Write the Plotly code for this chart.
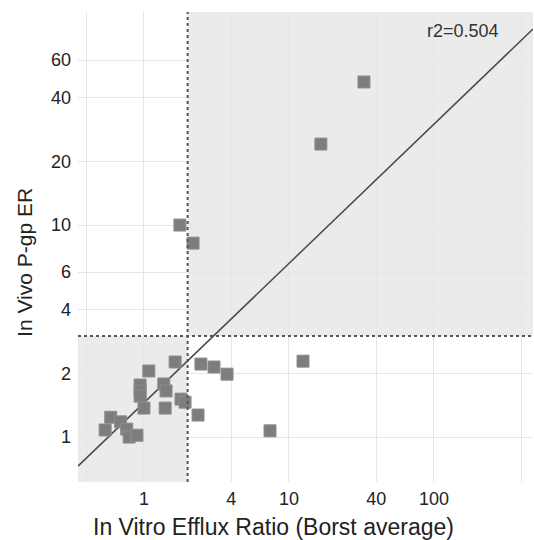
import plotly.graph_objects as go
import numpy as np

# Data
in_vitro_er = [1.77, 2.18, 32.9, 16.6, 12.5, 7.4, 1.64, 1.08, 2.47, 3.04, 3.74,
               0.94, 0.94, 0.94, 1.37, 1.42, 1.80, 1.92, 1.0, 1.40, 2.36,
               0.59, 0.69, 0.54, 0.76, 0.79, 0.895]
in_vivo_er = [10.0, 8.22, 47.3, 24.1, 2.28, 1.07, 2.26, 2.05, 2.21, 2.14, 1.98,
              1.76, 1.65, 1.56, 1.78, 1.65, 1.51, 1.46, 1.37, 1.37, 1.27,
              1.24, 1.18, 1.08, 1.09, 1.0, 1.02]

x_tickvals = [0.4, 1, 4, 10, 40, 100, 400]
x_ticktext = ["", "1", "4", "10", "40", "100", ""]
y_tickvals = [1, 2, 4, 6, 10, 20, 40, 60]
y_ticktext = ["1", "2", "4", "6", "10", "20", "40", "60"]

x_title = "In Vitro Efflux Ratio (Borst average)"
y_title = "In Vivo P-gp ER"

x_threshold = 2.0
y_threshold = 3.0
fit_slope = 0.657      # log-log regression
fit_intercept = 0.162
r2_label = "r2=0.504"

x_range_log = [-0.455, 2.683]
y_range_log = [-0.212, 2.005]

xmin, xmax = 10 ** x_range_log[0], 10 ** x_range_log[1]
ymin, ymax = 10 ** y_range_log[0], 10 ** y_range_log[1]

fig = go.Figure()

fit_x = np.array([xmin, xmax])
fit_y = 10 ** (fit_intercept + fit_slope * np.log10(fit_x))
fig.add_trace(go.Scatter(x=fit_x, y=fit_y, mode="lines",
                         line=dict(color="#4a4a4a", width=1.5),
                         hoverinfo="skip", showlegend=False))

fig.add_trace(go.Scatter(x=in_vitro_er, y=in_vivo_er, mode="markers",
                         marker=dict(symbol="square", size=12, color="#7d7d7d",
                                     line=dict(color="#8e8e8e", width=1)),
                         showlegend=False))

shade = "#ebebeb"
fig.add_shape(type="rect", xref="x", yref="y", x0=xmin, x1=x_threshold,
              y0=ymin, y1=y_threshold, fillcolor=shade, line=dict(width=0),
              layer="below")
fig.add_shape(type="rect", xref="x", yref="y", x0=x_threshold, x1=xmax,
              y0=y_threshold, y1=ymax, fillcolor=shade, line=dict(width=0),
              layer="below")
fig.add_shape(type="line", xref="x", yref="y", x0=x_threshold, x1=x_threshold,
              y0=ymin, y1=ymax, line=dict(color="#555555", width=2, dash="dot"))
fig.add_shape(type="line", xref="x", yref="y", x0=xmin, x1=xmax,
              y0=y_threshold, y1=y_threshold,
              line=dict(color="#555555", width=2, dash="dot"))

fig.add_annotation(text=r2_label, xref="paper", yref="paper", x=0.93, y=0.985,
                   xanchor="right", yanchor="top", showarrow=False,
                   font=dict(size=18, color="#333333"))

# axis titles as annotations (positioned like the reference)
fig.add_annotation(text=x_title, xref="paper", yref="paper", x=0.4286, y=-0.096,
                   xanchor="center", yanchor="middle", showarrow=False,
                   font=dict(size=23, color="#222222"))
fig.add_annotation(text=y_title, xref="paper", yref="paper", x=-0.119, y=0.468,
                   xanchor="center", yanchor="middle", showarrow=False,
                   textangle=-90, font=dict(size=21, color="#222222"))

font_family = "Liberation Sans, Arial, sans-serif"
fig.update_layout(
    width=534, height=540,
    margin=dict(l=78, r=1, t=12, b=58),
    paper_bgcolor="white", plot_bgcolor="white",
    font=dict(family=font_family, color="#222222", size=18),
    xaxis=dict(type="log", range=x_range_log, tickvals=x_tickvals,
               ticktext=x_ticktext, showgrid=True, gridcolor="#e6e6e6",
               gridwidth=1, zeroline=False, showline=False, ticks="",
               tickfont=dict(size=18), ticklabelstandoff=4),
    yaxis=dict(type="log", range=y_range_log, tickvals=y_tickvals,
               ticktext=y_ticktext, showgrid=True, gridcolor="#e6e6e6",
               gridwidth=1, zeroline=False, showline=False, ticks="",
               tickfont=dict(size=18), ticklabelstandoff=6),
)

fig.write_html("out.html")
